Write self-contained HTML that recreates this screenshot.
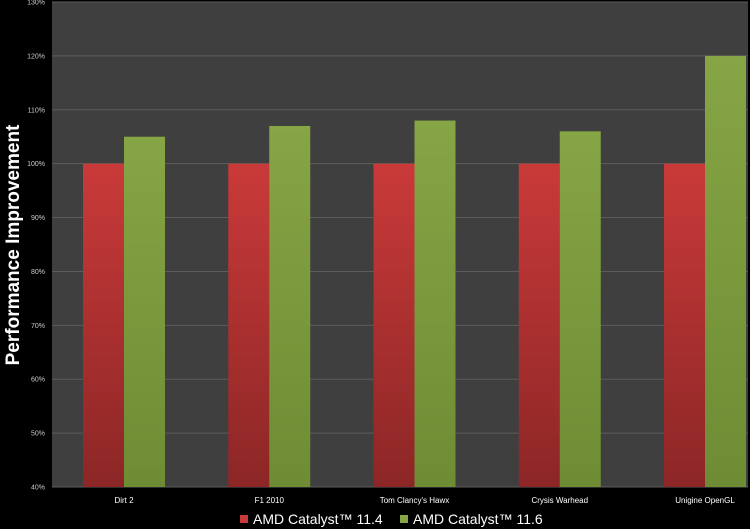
<!DOCTYPE html>
<html><head><meta charset="utf-8"><style>
body{margin:0;background:#000;width:750px;height:529px;overflow:hidden}
svg{display:block;font-family:"Liberation Sans",sans-serif}
</style></head><body>
<svg width="750" height="529">
<defs>
<linearGradient id="gr" x1="0" y1="0" x2="0" y2="1"><stop offset="0" stop-color="#c93a39"/><stop offset="1" stop-color="#8c2626"/></linearGradient>
<linearGradient id="gg" x1="0" y1="0" x2="0" y2="1"><stop offset="0" stop-color="#86a545"/><stop offset="1" stop-color="#6e8c34"/></linearGradient>
</defs>
<rect x="52" y="2" width="696" height="485" fill="#3f3f3f"/>
<g id="grid"></g><g id="bars"></g><g id="labels"></g>
<text transform="translate(19,245) rotate(-90)" text-anchor="middle" fill="#fff" font-size="19" font-weight="bold">Performance Improvement</text>
<g>
<rect x="240" y="515" width="8" height="8" fill="#c93a39"/>
<text x="253" y="524" fill="#fff" font-size="14">AMD Catalyst™ 11.4</text>
<rect x="400" y="515" width="8" height="8" fill="#86a545"/>
<text x="413" y="524" fill="#fff" font-size="14">AMD Catalyst™ 11.6</text>
</g>
</svg>
<script>
const categories=["Dirt 2","F1 2010","Tom Clancy's Hawx","Crysis Warhead","Unigine OpenGL"];
const cat114=[100,100,100,100,100];
const cat116=[105,107,108,106,120];
const yTicks=[40,50,60,70,80,90,100,110,120,130];
const NS="http://www.w3.org/2000/svg";
const y=v=>487-(v-40)*(485/90);
const xc=i=>124+i*145.25;
const bw=41;
function mk(t,a,p){const e=document.createElementNS(NS,t);for(const k in a)e.setAttribute(k,a[k]);p.appendChild(e);return e;}
const grid=document.getElementById('grid'),bars=document.getElementById('bars'),labels=document.getElementById('labels');
yTicks.forEach(v=>{
  const l=mk('line',{x1:52,x2:748,y1:y(v),y2:y(v),stroke:'#5c5c5c','stroke-width':1},grid);
  
  
  const t=mk('text',{x:45,y:y(v)+2.5,'text-anchor':'end',fill:'#ccc','font-size':7},labels);
  t.textContent=v+'%';
  
  
});
categories.forEach((c,i)=>{
  const r=mk('rect',{x:xc(i)-bw,y:y(cat114[i]),width:bw,height:487-y(cat114[i]),fill:'url(#gr)'},bars);
  
  
  const g=mk('rect',{x:xc(i),y:y(cat116[i]),width:bw,height:487-y(cat116[i]),fill:'url(#gg)'},bars);
  
  
  const t=mk('text',{x:xc(i),y:503,'text-anchor':'middle',fill:'#fff','font-size':8},labels);
  t.textContent=c;
  
  
});
</script>
</body></html>
